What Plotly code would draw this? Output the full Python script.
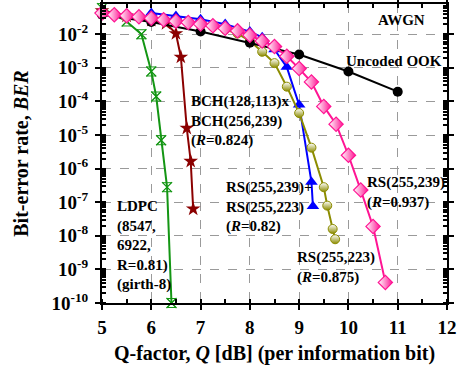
import plotly.graph_objects as go

# ---------------- data ----------------
q_uncoded = [5, 6, 7, 8, 9, 10, 11]
ber_uncoded = [3.8e-2, 2.3e-2, 1.2e-2, 5.6e-3, 2.5e-3, 7.8e-4, 1.95e-4]

q_rs239 = [5.0, 5.25, 5.5, 5.75, 6.0, 6.25, 6.5, 6.75, 7.0, 7.25, 7.5, 7.75,
           8.0, 8.25, 8.5, 8.75, 9.0, 9.25, 9.5, 9.75, 10.0, 10.25, 10.5, 10.75]
ber_rs239 = [4.27e-2, 3.8e-2, 3.55e-2, 3.3e-2, 3.0e-2, 2.7e-2, 2.45e-2, 2.25e-2,
             2.0e-2, 1.78e-2, 1.5e-2, 1.26e-2, 9.3e-3, 6.3e-3, 4.3e-3, 2.2e-3,
             9.5e-4, 3.8e-4, 7.1e-5, 2.1e-5, 2.5e-6, 2.3e-7, 1.9e-8, 4.1e-10]

q_rsrs = [6.0, 6.5, 7.0, 7.5, 8.0, 8.25, 8.5, 8.75, 9.0, 9.25, 9.28]
ber_rsrs = [4.3e-2, 3.5e-2, 2.8e-2, 2.0e-2, 1.2e-2, 8.1e-3, 3.5e-3, 1.05e-3,
            7.9e-5, 4.0e-7, 7.6e-8]

q_rs223 = [5.0, 5.25, 5.5, 5.75, 6.0, 6.25, 6.5, 6.75, 7.0, 7.25, 7.5, 7.75,
           8.0, 8.25, 8.5, 8.75, 9.0, 9.25, 9.5, 9.57, 9.68, 9.73]
ber_rs223 = [4.5e-2, 4.1e-2, 3.7e-2, 3.4e-2, 3.1e-2, 2.75e-2, 2.45e-2, 2.2e-2,
             1.9e-2, 1.66e-2, 1.38e-2, 1.05e-2, 6.3e-3, 3.0e-3, 1.38e-3, 2.75e-4,
             4.5e-5, 4.2e-6, 2.8e-7, 7.9e-8, 1.6e-8, 7.9e-9]

q_bch = [5.0, 5.5, 6.0, 6.3, 6.5, 6.6, 6.72, 6.8, 6.85]
ber_bch = [5.0e-2, 3.5e-2, 2.6e-2, 2.1e-2, 1.05e-2, 2.1e-3, 1.6e-5, 1.66e-6, 6.3e-8]

q_ldpc = [5.0, 5.5, 5.8, 6.0, 6.1, 6.2, 6.32, 6.41]
ber_ldpc = [6.0e-2, 2.4e-2, 1.0e-2, 7.8e-4, 1.4e-4, 7.0e-6, 2.8e-7, 1.0e-10]

x_ticks = [5, 6, 7, 8, 9, 10, 11, 12]
y_exponents = [-2, -3, -4, -5, -6, -7, -8, -9, -10]

# ---------------- styling ----------------
FONT = "Liberation Serif"
PINK = "#FF1493"
BLUE = "#0000FF"
OLIVE = "#8C8C00"
DRED = "#8B0000"
GREEN = "#149614"

fig = go.Figure()

# LDPC
fig.add_trace(go.Scatter(x=q_ldpc, y=ber_ldpc, mode="lines+markers",
                         line=dict(color=GREEN, width=2),
                         marker=dict(symbol="hourglass-open", size=9,
                                     color=GREEN, line=dict(width=1)),
                         cliponaxis=False))
fig.add_trace(go.Scatter(x=q_ldpc, y=ber_ldpc, mode="markers",
                         marker=dict(symbol="x-thin-open", size=10,
                                     color=GREEN, line=dict(width=1.2, color=GREEN)),
                         cliponaxis=False))
# BCH x BCH
fig.add_trace(go.Scatter(x=q_bch, y=ber_bch, mode="lines+markers",
                         line=dict(color=DRED, width=2),
                         marker=dict(symbol="star", size=11, color=DRED),
                         cliponaxis=False))
# RS+RS
fig.add_trace(go.Scatter(x=q_rsrs, y=ber_rsrs, mode="lines+markers",
                         line=dict(color=BLUE, width=2),
                         marker=dict(symbol="triangle-up", size=11, color=BLUE),
                         cliponaxis=False))
# RS(255,223)
fig.add_trace(go.Scatter(x=q_rs223, y=ber_rs223, mode="lines+markers",
                         line=dict(color=OLIVE, width=2),
                         marker=dict(symbol="circle", size=9, color="white",
                                     gradient=dict(type="vertical", color=OLIVE),
                                     line=dict(color=OLIVE, width=1)),
                         cliponaxis=False))
# Uncoded OOK
fig.add_trace(go.Scatter(x=q_uncoded, y=ber_uncoded, mode="lines+markers",
                         line=dict(color="black", width=2),
                         marker=dict(symbol="circle", size=10, color="black"),
                         cliponaxis=False))
# RS(255,239)
fig.add_trace(go.Scatter(x=q_rs239, y=ber_rs239, mode="lines+markers",
                         line=dict(color=PINK, width=2),
                         marker=dict(symbol="diamond", size=11, color="white",
                                     gradient=dict(type="horizontal", color=PINK),
                                     line=dict(color=PINK, width=1.2)),
                         cliponaxis=False))

ann_font = dict(family=FONT, size=15, color="black", weight="bold")


def note(text, x, y, xanchor="left", yanchor="middle"):
    fig.add_annotation(text=text, x=x, y=y, xref="x", yref="y",
                       xanchor=xanchor, yanchor=yanchor, align="left",
                       showarrow=False, font=ann_font)


note("AWGN", 11.08, -1.57, xanchor="center")
note("Uncoded OOK", 10.93, -2.80, xanchor="center")
note("BCH(128,113)x<br>BCH(256,239)<br>(<i>R</i>=0.824)", 6.77, -4.59)
note("LDPC<br>(8547,<br>6922,<br>R=0.81)<br>(girth-8)", 5.27, -8.28)
note("RS(255,239)+<br>RS(255,223)<br>(<i>R</i>=0.82)", 7.48, -7.15)
note("RS(255,223)<br>(<i>R</i>=0.875)", 8.92, -8.94)
note("RS(255,239)<br>(<i>R</i>=0.937)", 10.33, -6.72)

tick_font = dict(family=FONT, size=19, color="black", weight="bold")
title_font = dict(family=FONT, size=20, color="black", weight="bold")

fig.update_xaxes(range=[5, 12], tickvals=x_ticks, ticktext=[str(v) for v in x_ticks],
                 showline=True, linecolor="black", linewidth=2, mirror="allticks",
                 ticks="outside", ticklen=5, tickwidth=1.5, tickcolor="black",
                 ticklabelstandoff=1,
                 minor=dict(dtick=0.5, ticks="inside", ticklen=4, tickcolor="black",
                            showgrid=False),
                 showgrid=True, gridcolor="#9a9a9a", griddash="dash", gridwidth=1,
                 zeroline=False, tickfont=tick_font,
                 title=dict(text="Q-factor, <i>Q</i> [dB] (per information bit)",
                            font=title_font, standoff=9))
fig.update_yaxes(type="log", range=[-10, -1.1],
                 tickvals=[10.0 ** e for e in y_exponents],
                 ticktext=["10<sup>%d</sup>" % e for e in y_exponents],
                 showline=True, linecolor="black", linewidth=2, mirror="allticks",
                 ticks="outside", ticklen=5, tickwidth=1.5, tickcolor="black",
                 ticklabelstandoff=3,
                 minor=dict(dtick="D1", ticks="inside", ticklen=4, tickcolor="black",
                            showgrid=False),
                 showgrid=True, gridcolor="#9a9a9a", griddash="dash", gridwidth=1,
                 zeroline=False, tickfont=tick_font,
                 title=dict(text="Bit-error rate, <i>BER</i>", font=title_font,
                            standoff=17))

fig.update_layout(width=461, height=376, showlegend=False,
                  paper_bgcolor="white", plot_bgcolor="white",
                  margin=dict(l=101.5, r=13.5, t=4, b=73.3, autoexpand=False),
                  font=dict(family=FONT, color="black"))

fig.write_html("out.html", config={"displayModeBar": False},
               post_script="document.body.style.margin='0';document.body.style.padding='0';")
